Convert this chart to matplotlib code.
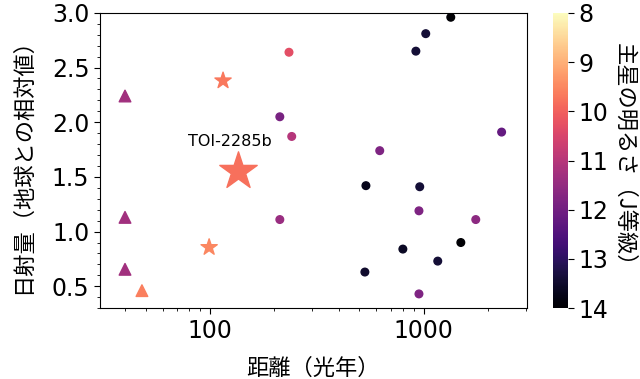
import numpy as np
import matplotlib
matplotlib.use("Agg")
from matplotlib import pyplot as plt
from matplotlib.colors import Normalize

plt.rcParams['font.family'] = ['Noto Sans CJK JP', 'DejaVu Sans']

# 惑星データ（距離[光年], 日射量[地球比], J等級）
circle_dist = [234, 212, 241, 212, 1337, 1021, 918, 2312, 622, 536, 957,
               949, 1750, 1490, 798, 1162, 530, 949]
circle_flux = [2.64, 2.05, 1.87, 1.11, 2.96, 2.81, 2.65, 1.91, 1.74, 1.42, 1.41,
               1.19, 1.11, 0.90, 0.84, 0.73, 0.63, 0.43]
circle_j = [10.3, 11.9, 11.0, 11.4, 14.0, 13.4, 13.4, 12.2, 11.8, 13.7, 13.4,
            11.8, 11.6, 14.0, 13.6, 13.4, 13.5, 11.8]

tri_dist = [40, 40, 40, 48]
tri_flux = [2.24, 1.13, 0.655, 0.46]
tri_j = [11.3, 11.3, 11.3, 9.6]

star_dist = [115, 99]
star_flux = [2.38, 0.856]
star_j = [9.7, 9.5]

toi_dist = [135]
toi_flux = [1.55]
toi_j = [9.8]
toi_name = "TOI-2285b"

norm = Normalize(vmin=8, vmax=14)
cmap = "magma_r"

fig = plt.figure(figsize=(6.4, 3.79), dpi=100)
ax = fig.add_axes([0.156, 0.187, 0.667, 0.779])

ax.scatter(circle_dist, circle_flux, c=circle_j, cmap=cmap, norm=norm, marker='o', s=30)
ax.scatter(tri_dist, tri_flux, c=tri_j, cmap=cmap, norm=norm, marker='^', s=70)
ax.scatter(star_dist, star_flux, c=star_j, cmap=cmap, norm=norm, marker='*', s=150)
sc = ax.scatter(toi_dist, toi_flux, c=toi_j, cmap=cmap, norm=norm, marker='*', s=800)
ax.text(toi_dist[0] * 0.92, toi_flux[0] + 0.27, toi_name, ha='center', va='center',
        fontsize=11.5, family='DejaVu Sans')

ax.set_xscale('log')
ax.set_xlim(30.5, 3030)
ax.set_ylim(0.3, 3.0)
ax.set_yticks([0.5, 1.0, 1.5, 2.0, 2.5, 3.0])
ax.yaxis.set_minor_locator(matplotlib.ticker.MultipleLocator(0.1))
ax.xaxis.set_major_formatter(matplotlib.ticker.FormatStrFormatter('%d'))
ax.tick_params(axis='both', which='major', labelsize=17, length=4)
ax.tick_params(axis='both', which='minor', length=2)
for lab in ax.get_xticklabels() + ax.get_yticklabels():
    lab.set_family('DejaVu Sans')

ax.set_xlabel('距離（光年）', fontsize=16, labelpad=10)
ax.set_ylabel('日射量（地球との相対値）', fontsize=16, labelpad=13)

cax = fig.add_axes([0.864, 0.187, 0.024, 0.779])
cb = fig.colorbar(sc, cax=cax)
cb.set_ticks([8, 9, 10, 11, 12, 13, 14])
cax.invert_yaxis()
cax.tick_params(labelsize=17, length=4)
for lab in cax.get_yticklabels():
    lab.set_family('DejaVu Sans')
cb.outline.set_visible(False)
cb.set_label('主星の明るさ（J等級）', fontsize=16, rotation=270, labelpad=20)

fig.savefig('out.png', dpi=100)
